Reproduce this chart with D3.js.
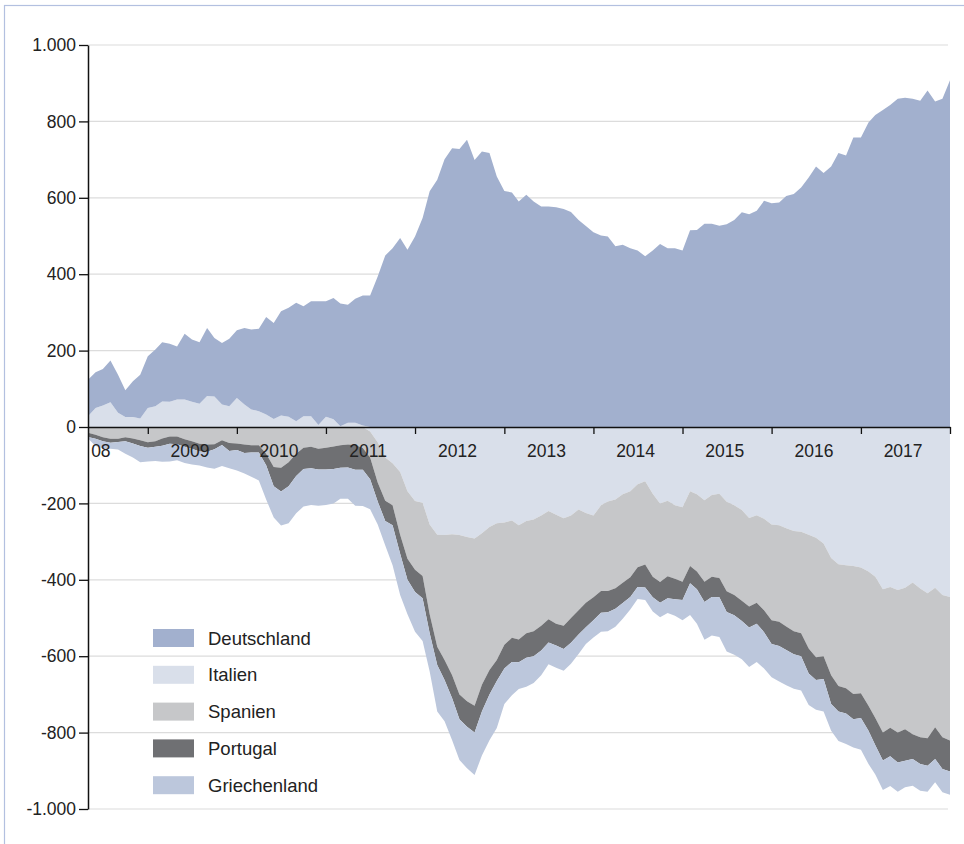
<!DOCTYPE html>
<html>
<head>
<meta charset="utf-8">
<script src="https://cdn.jsdelivr.net/npm/d3@7"></script>
<style>
  body { margin: 0; background: #fff; }
  svg { display: block; font-family: "Liberation Sans", Arial, Helvetica, sans-serif; }
</style>
</head>
<body>
<svg id="chart" width="964" height="844"></svg>
<script>
// monthly TARGET2 balances (bn EUR), first value = May 2008
const firstMonth = new Date(2008, 4, 1);

const deutschland = [
  96, 93, 96, 109, 100, 70, 94, 115, 135, 149,
  155, 152, 139, 172, 163, 161, 178, 153, 161, 177,
  177, 200, 209, 216, 255, 251, 273, 285, 310, 288,
  301, 324, 302, 318, 321, 309, 325, 340, 344, 394,
  449, 468, 495, 464, 499, 547, 617, 647, 701, 730,
  728, 752, 699, 721, 717, 656, 618, 614, 590, 608,
  590, 577, 577, 575, 571, 563, 542, 526, 510, 501,
  499, 473, 477, 468, 462, 447, 462, 479, 468, 468,
  462, 515, 516, 532, 532, 527, 531, 542, 562, 557,
  566, 592, 586, 588, 605, 610, 627, 653, 682, 665,
  682, 717, 711, 758, 758, 797, 817, 830, 843, 859,
  862, 859, 854, 881, 852, 859, 908
];
const italien = [
  28, 50, 56, 65, 37, 26, 26, 22, 50, 54,
  67, 66, 72, 72, 66, 61, 81, 80, 59, 54,
  76, 59, 46, 41, 33, 21, 30, 27, 15, 28,
  28, 5, 27, 20, 2, 11, 11, 4, -12, -40,
  -80, -95, -118, -168, -194, -198, -255, -282, -283, -281,
  -283, -288, -292, -278, -262, -252, -250, -245, -257, -246,
  -242, -232, -220, -230, -239, -232, -216, -225, -232, -205,
  -195, -190, -176, -168, -150, -142, -175, -200, -193, -205,
  -210, -168, -176, -192, -178, -175, -196, -205, -217, -238,
  -231, -240, -255, -257, -265, -272, -274, -282, -290, -305,
  -343, -359, -362, -364, -368, -378, -392, -425, -419, -427,
  -421, -407, -423, -435, -421, -440, -445
];
const spanien = [
  -15, -20, -27, -31, -31, -27, -30, -35, -40, -37,
  -30, -25, -25, -32, -37, -44, -46, -45, -35, -42,
  -43, -46, -48, -48, -70, -105, -107, -92, -70, -54,
  -52, -57, -54, -51, -48, -46, -47, -55, -68, -105,
  -113, -110, -164, -177, -180, -192, -235, -293, -327, -369,
  -417, -430, -438, -397, -374, -358, -320, -307, -299, -294,
  -293, -288, -283, -285, -281, -268, -264, -235, -214, -224,
  -234, -232, -232, -225, -217, -218, -217, -206, -198, -192,
  -195, -196, -202, -213, -214, -220, -234, -235, -238, -232,
  -229, -240, -251, -253, -257, -263, -266, -298, -313, -295,
  -307, -319, -322, -335, -329, -352, -370, -375, -368, -373,
  -370, -397, -389, -380, -365, -372, -376
];
const portugal = [
  -11, -11, -10, -10, -8, -10, -13, -15, -14, -15,
  -19, -19, -20, -20, -20, -20, -19, -13, -12, -21,
  -17, -22, -19, -19, -30, -50, -62, -63, -58, -56,
  -56, -54, -57, -59, -59, -60, -65, -57, -57, -50,
  -53, -52, -50, -55, -58, -58, -50, -48, -52, -60,
  -65, -67, -70, -70, -64, -55, -62, -63, -60, -64,
  -65, -65, -61, -57, -61, -65, -63, -64, -60, -57,
  -56, -54, -53, -52, -52, -60, -54, -54, -57, -54,
  -48, -45, -47, -53, -53, -51, -54, -53, -53, -55,
  -55, -57, -62, -63, -62, -60, -60, -65, -59, -60,
  -75, -67, -66, -66, -65, -65, -71, -73, -75, -78,
  -83, -65, -70, -72, -83, -83, -81
];
const griechenland = [
  -4, -19, -19, -16, -20, -33, -37, -42, -36, -37,
  -42, -46, -42, -42, -41, -37, -41, -51, -55, -45,
  -54, -54, -63, -73, -90, -82, -89, -97, -98, -98,
  -96, -95, -93, -90, -81, -82, -94, -95, -78, -60,
  -64, -105, -108, -90, -104, -112, -100, -122, -108, -110,
  -107, -108, -111, -115, -120, -123, -93, -87, -70, -76,
  -70, -65, -57, -58, -57, -55, -51, -44, -45, -50,
  -50, -47, -41, -33, -31, -33, -37, -38, -39, -43,
  -53, -83, -90, -99, -101, -104, -104, -103, -100, -103,
  -100, -95, -87, -93, -92, -90, -90, -83, -78, -85,
  -70, -77, -80, -74, -83, -87, -77, -77, -78, -77,
  -69, -70, -70, -68, -61, -61, -61
];

const legendNames = ["Deutschland", "Italien", "Spanien", "Portugal", "Griechenland"];
const stackOrder = ["Italien", "Deutschland", "Spanien", "Portugal", "Griechenland"];
const colors = {
  Deutschland: "#a2b0ce",
  Italien: "#d9dfea",
  Spanien: "#c6c7c9",
  Portugal: "#6f7073",
  Griechenland: "#bcc7dc"
};
const tickYears = [2009, 2010, 2011, 2012, 2013, 2014, 2015, 2016, 2017, 2018];
const labelYears = [2008, 2009, 2010, 2011, 2012, 2013, 2014, 2015, 2016, 2017];
const yearLabels = ["08", "2009", "2010", "2011", "2012", "2013", "2014", "2015", "2016", "2017"];
const yTicks = [-1000, -800, -600, -400, -200, 0, 200, 400, 600, 800, 1000];

// build rows for the stack
const rows = deutschland.map((v, i) => ({
  date: d3.timeMonth.offset(firstMonth, i),
  Deutschland: v,
  Italien: italien[i],
  Spanien: spanien[i],
  Portugal: portugal[i],
  Griechenland: griechenland[i]
}));

const svg = d3.select("#chart");
const plotLeft = 88, plotRight = 950, plotTop = 45, plotBottom = 809;

const x = d3.scaleTime()
  .domain([firstMonth, rows[rows.length - 1].date])
  .range([plotLeft, plotRight]);
const y = d3.scaleLinear().domain([-1000, 1000]).range([plotBottom, plotTop]);

const de = d3.formatLocale({ decimal: ",", thousands: ".", grouping: [3], currency: ["", " €"], minus: "-" });

// outer frame
svg.append("rect")
  .attr("x", 4.5).attr("y", 5.5)
  .attr("width", 1000).attr("height", 1000)
  .attr("fill", "none")
  .attr("stroke", "#b3c0e0")
  .attr("stroke-width", 1.2);

// gridlines
svg.append("g").selectAll("line")
  .data(yTicks.filter(d => d !== 0))
  .join("line")
    .attr("x1", plotLeft).attr("x2", plotRight - 2)
    .attr("y1", d => y(d)).attr("y2", d => y(d))
    .attr("stroke", "#dcdcdc")
    .attr("stroke-width", 1.2);

// stacked areas (positive up, negative down)
const series = d3.stack()
  .keys(stackOrder)
  .offset(d3.stackOffsetDiverging)(rows);

const area = d3.area()
  .x(d => x(d.data.date))
  .y0(d => y(d[0]))
  .y1(d => y(d[1]));

svg.append("g").selectAll("path")
  .data(series)
  .join("path")
    .attr("fill", d => colors[d.key])
    .attr("d", area);

// y axis
const yAxis = svg.append("g")
  .attr("transform", `translate(${plotLeft},0)`)
  .call(d3.axisLeft(y)
    .tickValues(yTicks)
    .tickFormat(de.format(",d"))
    .tickSize(9)
    .tickSizeOuter(0)
    .tickPadding(3));
yAxis.select(".domain").attr("stroke", "#111").attr("stroke-width", 1.5);
yAxis.selectAll(".tick line").attr("stroke", "#111").attr("stroke-width", 1.3);
yAxis.selectAll(".tick text")
  .attr("fill", "#222")
  .style("font-size", "17.5px")
  .style("font-family", "\"Liberation Sans\", Arial, Helvetica, sans-serif");

// x axis on the zero line
const xAxis = svg.append("g")
  .attr("transform", `translate(0,${y(0)})`)
  .call(d3.axisBottom(x)
    .tickValues(tickYears.map(yr => new Date(yr, 0, 1)))
    .tickFormat("")
    .tickSize(7)
    .tickSizeOuter(0));
xAxis.select(".domain").attr("stroke", "#111").attr("stroke-width", 1.5);
xAxis.selectAll(".tick line").attr("stroke", "#111").attr("stroke-width", 1.3);

svg.append("g").selectAll("text")
  .data(labelYears)
  .join("text")
    .attr("x", d => x(new Date(d, 6, 1)) - 2)
    .attr("y", y(0) + 29.5)
    .attr("text-anchor", "middle")
    .attr("fill", "#222")
    .style("font-size", "17.5px")
    .text((d, i) => yearLabels[i]);

// legend
const legend = svg.append("g").attr("transform", "translate(153,638)");
const item = legend.selectAll("g")
  .data(legendNames)
  .join("g")
    .attr("transform", (d, i) => `translate(0,${i * 36.8})`);
item.append("rect")
  .attr("x", 0).attr("y", -9)
  .attr("width", 41).attr("height", 18)
  .attr("fill", d => colors[d]);
item.append("text")
  .attr("x", 55).attr("y", 6.5)
  .attr("fill", "#222")
  .style("font-size", "18.5px")
  .text(d => d);
</script>
</body>
</html>
